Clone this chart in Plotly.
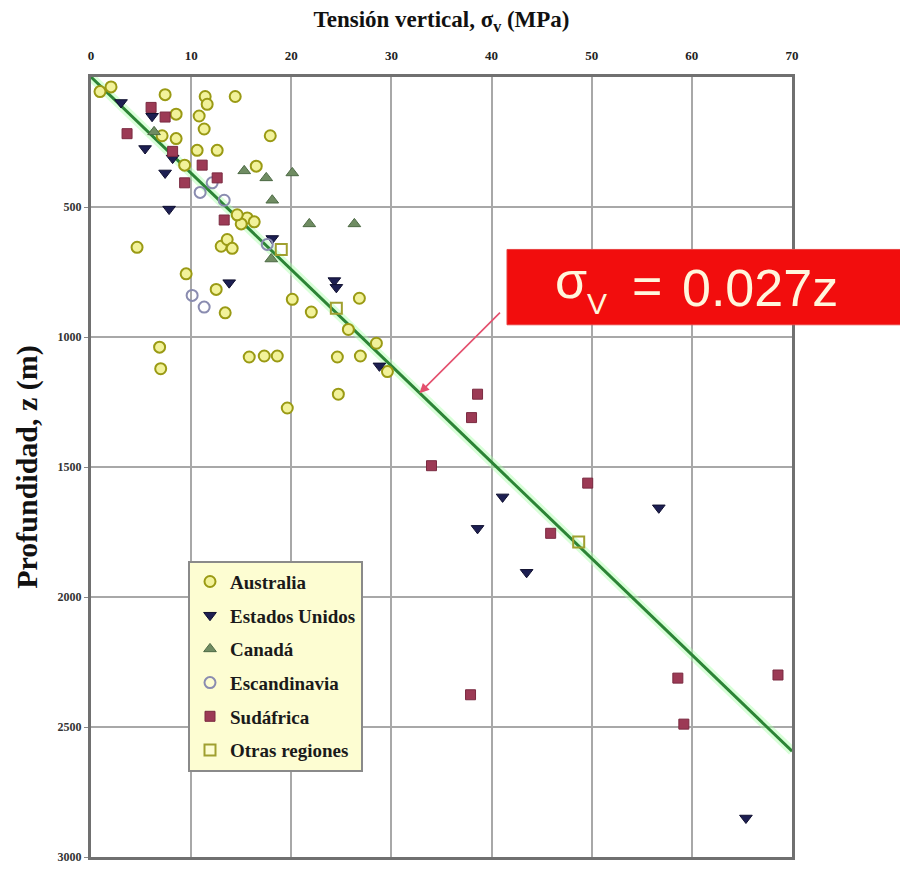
import plotly.graph_objects as go

# ---- data (sigma in MPa, depth z in m) ----
aus_sigma = [0.9, 2.0, 7.4, 11.4, 11.6, 14.4, 8.5, 10.8, 11.3, 7.1, 8.5, 10.6, 12.6, 9.35, 17.9,
             15.6, 15.0, 16.3, 14.6, 13.0, 13.6, 14.1, 4.6, 9.5, 12.5, 13.4, 6.85, 6.96, 15.8, 17.3,
             18.6, 19.6, 20.1, 22.0, 24.6, 26.9, 24.7, 26.8, 25.7, 28.5, 29.6, 16.5]
aus_z = [56, 38, 68, 75, 105, 75, 143, 150, 200, 226, 237, 282, 282, 339, 226,
         542, 565, 557, 530, 651, 625, 659, 655, 757, 817, 907, 1039, 1122, 1077, 1073,
         1073, 1273, 855, 904, 1077, 1073, 1220, 851, 971, 1024, 1133, 343]

usa_sigma = [3.0, 6.1, 5.4, 7.4, 8.15, 7.8, 13.8, 18.1, 24.3, 24.5, 28.8, 41.1, 38.6, 43.5, 56.7, 65.4]
usa_z = [98, 151, 275, 369, 312, 508, 791, 621, 783, 809, 1111, 1615, 1736, 1905, 1657, 2850]

can_sigma = [15.3, 17.5, 20.1, 18.1, 21.8, 26.3, 18.0, 6.3]
can_z = [361, 388, 369, 474, 565, 565, 700, 211]

esc_sigma = [10.1, 11.3, 10.9, 13.3, 17.6, 12.1]
esc_z = [840, 885, 444, 474, 644, 407]

saf_sigma = [6.0, 7.4, 3.6, 8.15, 11.1, 9.35, 12.6, 13.3, 38.6, 38.0, 34.0, 49.6, 45.9, 37.9, 58.6, 68.6, 59.2]
saf_z = [117, 154, 218, 286, 339, 407, 388, 550, 1220, 1310, 1495, 1562, 1755, 2376, 2312, 2300, 2489]

otr_sigma = [19.0, 24.5, 48.7]
otr_z = [663, 889, 1788]

# fitted trend sigma_v = 0.027 z
coef = 0.027
z_line = [0, 2593]
s_line = [coef * z for z in z_line]

x_ticks = [0, 10, 20, 30, 40, 50, 60, 70]
y_ticks = [500, 1000, 1500, 2000, 2500, 3000]

serif = "Liberation Serif"
W, H = 900, 872
ML, MR, MT, MB = 91, 108, 77, 8


def px(xp):
    return (xp - ML) / (W - ML - MR)


def py(yp):
    return 1 - (yp - MT) / (H - MT - MB)


fig = go.Figure()

# trend line halo + line
fig.add_trace(go.Scatter(x=s_line, y=z_line, mode="lines", showlegend=False, hoverinfo="skip",
                         line=dict(color="rgba(170,255,170,0.45)", width=9)))
fig.add_trace(go.Scatter(x=s_line, y=z_line, mode="lines", showlegend=False,
                         line=dict(color="#2c8436", width=3), name="σv = 0.027z"))


def add(name, xs, ys, marker):
    fig.add_trace(go.Scatter(x=xs, y=ys, mode="markers", name=name, legendgroup=name,
                             marker=marker))


add("Australia", aus_sigma, aus_z,
    dict(symbol="circle", size=11, color="#f2f29a", line=dict(color="#9a9a14", width=2)))
add("Estados Unidos", usa_sigma, usa_z,
    dict(symbol="triangle-down", size=11, color="#1d1f52", line=dict(color="#101030", width=1)))
add("Canadá", can_sigma, can_z,
    dict(symbol="triangle-up", size=11, color="#6f8c62", line=dict(color="#4d6a45", width=1)))
add("Escandinavia", esc_sigma, esc_z,
    dict(symbol="circle-open", size=11, color="#8a8cb0", line=dict(width=2)))
add("Sudáfrica", saf_sigma, saf_z,
    dict(symbol="square", size=10, color="#9c3a55", line=dict(color="#7a2a40", width=1)))
add("Otras regiones", otr_sigma, otr_z,
    dict(symbol="square-open", size=11, color="#a0a030", line=dict(width=2)))

fig.update_layout(
    width=W, height=H,
    margin=dict(l=ML, r=MR, t=MT, b=MB),
    paper_bgcolor="white", plot_bgcolor="white",
    font=dict(family=serif, color="#222"),
    xaxis=dict(
        side="top", range=[0, 70], tickvals=x_ticks, ticktext=[str(v) for v in x_ticks],
        showgrid=True, gridcolor="#a8a8a8", gridwidth=1.5, zeroline=False,
        showline=True, linecolor="#707070", linewidth=3, mirror=True,
        ticks="outside", ticklen=9, tickcolor="rgba(0,0,0,0)",
        tickfont=dict(family=serif, size=13, color="#222", weight="bold"),
        title=dict(text="<b>Tensión vertical, σ<sub>v</sub> (MPa)</b>",
                   font=dict(family=serif, size=23, color="#111"), standoff=14),
    ),
    yaxis=dict(
        range=[3000, 0], tickvals=y_ticks, ticktext=[str(v) for v in y_ticks],
        showgrid=True, gridcolor="#a8a8a8", gridwidth=1.5, zeroline=False,
        showline=True, linecolor="#707070", linewidth=3, mirror=True,
        ticks="outside", ticklen=4, tickcolor="#888",
        tickfont=dict(family=serif, size=12, color="#333", weight="bold"),
        title=dict(text="<b>Profundidad, z (m)</b>",
                   font=dict(family=serif, size=30, color="#111"), standoff=12),
    ),
    legend=dict(
        x=px(188), y=py(565), xanchor="left", yanchor="top",
        bgcolor="#fdfdd2", bordercolor="#8a8a8a", borderwidth=2,
        font=dict(family=serif, size=19, color="#1a1a1a", weight="bold"),
        tracegroupgap=6, traceorder="grouped",
    ),
    showlegend=True,
)

# red label box
fig.add_shape(type="rect", xref="paper", yref="paper",
              x0=px(507), x1=px(902), y0=py(327), y1=py(251),
              fillcolor="#f20d0d", line=dict(color="#e84040", width=1), layer="above")
lab_font = dict(family="Liberation Sans", size=52, color="#fff6dc")
fig.add_annotation(xref="paper", yref="paper", x=px(571), y=py(282), showarrow=False,
                   text="σ", font=lab_font, xanchor="center", yanchor="middle")
fig.add_annotation(xref="paper", yref="paper", x=px(597), y=py(306), showarrow=False,
                   text="V", font=dict(family="Liberation Sans", size=30, color="#fff6dc"),
                   xanchor="center", yanchor="middle")
fig.add_annotation(xref="paper", yref="paper", x=px(647), y=py(288), showarrow=False,
                   text="=", font=lab_font, xanchor="center", yanchor="middle")
fig.add_annotation(xref="paper", yref="paper", x=px(680), y=py(290), showarrow=False,
                   text="0.027z", font=lab_font, xanchor="left", yanchor="middle")

# pointer arrow to the trend line
fig.add_annotation(x=32.8, y=1216, xref="x", yref="y", text="", showarrow=True,
                   ax=82, ay=-82, arrowcolor="#e4506e", arrowwidth=1.6, arrowhead=2,
                   arrowsize=1.2)

fig.write_html("out.html")
